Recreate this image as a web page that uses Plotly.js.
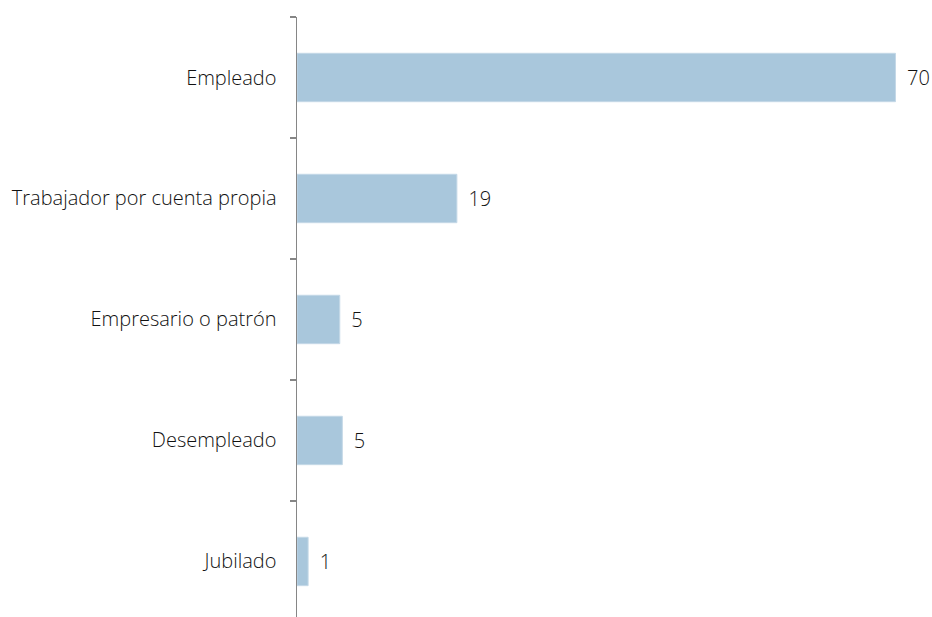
<!DOCTYPE html>
<html>
<head>
<meta charset="utf-8">
<script src="https://cdn.plot.ly/plotly-3.0.1.min.js"></script>
<style>html,body{margin:0;padding:0;background:#fff;}#chart{width:932px;height:617px;}</style>
</head>
<body>
<div id="chart"></div>
<script>
const categories = ["Empleado", "Trabajador por cuenta propia", "Empresario o patrón", "Desempleado", "Jubilado"];
const values = [70, 18.7, 5.0, 5.3, 1.3];

const FONT = "'Open Sans', Lato, sans-serif";

const trace = {
  type: "bar",
  orientation: "h",
  y: categories,
  x: values,
  marker: {color: "#a9c7dc", line: {color: "#c4d8e7", width: 1}},
  texttemplate: "\u00a0\u2009%{x:.0f}",
  textposition: "outside",
  cliponaxis: false,
  textfont: {family: FONT, size: 20, color: "#111", weight: 300},
  hoverinfo: "skip"
};

const layout = {
  width: 932, height: 617,
  margin: {l: 297, r: 0, t: 17, b: 0, pad: 0},
  paper_bgcolor: "#fff", plot_bgcolor: "#fff",
  showlegend: false,
  bargap: 0.6,
  font: {family: FONT, size: 20, color: "#111", weight: 300},
  xaxis: {visible: false, range: [0, 74.27], fixedrange: true},
  yaxis: {
    type: "category",
    range: [4.459, -0.5],
    showline: true, linecolor: "#868686", linewidth: 1.5,
    ticks: "outside", tickson: "boundaries", ticklen: 6, tickwidth: 1.5, tickcolor: "#868686",
    ticklabelstandoff: 15,
    showgrid: false, zeroline: false,
    tickfont: {family: FONT, size: 20, color: "#111", weight: 300}
  }
};

Plotly.newPlot("chart", [trace], layout, {staticPlot: true, displayModeBar: false});
</script>
</body>
</html>
